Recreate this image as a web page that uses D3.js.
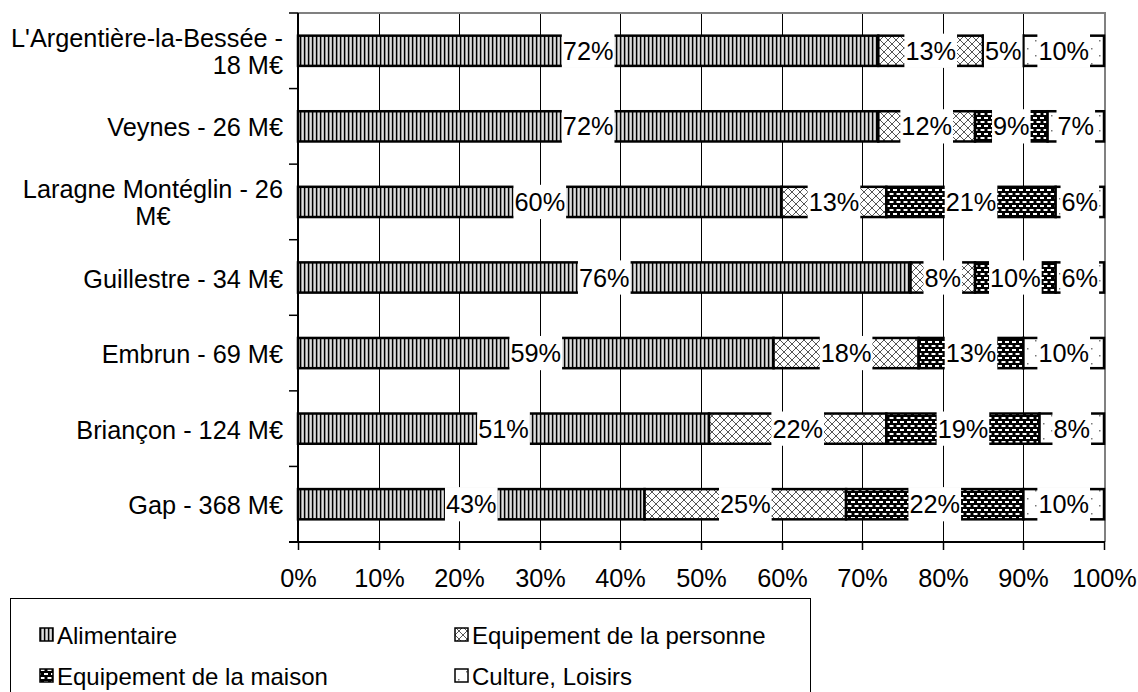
<!DOCTYPE html>
<html>
<head>
<meta charset="utf-8">
<script src="https://cdn.jsdelivr.net/npm/d3@7"></script>
<style>
  body { margin: 0; background: #fff; }
  text { font-family: "Liberation Sans", Arial, sans-serif; }
</style>
</head>
<body>
<div id="chart"></div>
<script>
// categories, top to bottom
const categories = [
  "L'Argentière-la-Bessée - 18 M€",
  "Veynes - 26 M€",
  "Laragne Montéglin - 26 M€",
  "Guillestre - 34 M€",
  "Embrun - 69 M€",
  "Briançon - 124 M€",
  "Gap - 368 M€"
];
// wrapped label lines as drawn, and how the lines line up
const categoryLines = [
  ["L'Argentière-la-Bessée -", "18 M€"],
  ["Veynes - 26 M€"],
  ["Laragne Montéglin - 26", "M€"],
  ["Guillestre - 34 M€"],
  ["Embrun - 69 M€"],
  ["Briançon - 124 M€"],
  ["Gap - 368 M€"]
];
const lineAlign = ["end", "middle", "middle", "middle", "middle", "middle", "middle"];

const seriesNames = ["Alimentaire", "Equipement de la personne", "Equipement de la maison", "Culture, Loisirs"];
const alimentaire = [72, 72, 60, 76, 59, 51, 43];
const personne    = [13, 12, 13,  8, 18, 22, 25];
const maison      = [ 5,  9, 21, 10, 13, 19, 22];
const culture     = [10,  7,  6,  6, 10,  8, 10];
const xTicks = [0, 10, 20, 30, 40, 50, 60, 70, 80, 90, 100];

const width = 1138, height = 692;
const plot = {left: 298, right: 1104, top: 13, bottom: 542};
const fs = 25.3;

const svg = d3.select("#chart").append("svg")
    .attr("width", width)
    .attr("height", height);

// patterns
const defs = svg.append("defs");

const pAli = defs.append("pattern").attr("id", "p0")
    .attr("patternUnits", "userSpaceOnUse").attr("width", 4).attr("height", 4);
pAli.append("rect").attr("width", 4).attr("height", 4).attr("fill", "#b0b0b0");
pAli.append("rect").attr("x", 0).attr("width", 1.2).attr("height", 4).attr("fill", "#000");
pAli.append("rect").attr("x", 2.3).attr("width", 0.9).attr("height", 4).attr("fill", "#f4f4f4");

const pPer = defs.append("pattern").attr("id", "p1")
    .attr("patternUnits", "userSpaceOnUse").attr("width", 8).attr("height", 8);
pPer.append("rect").attr("width", 8).attr("height", 8).attr("fill", "#fff");
pPer.append("path").attr("d", "M0,0L8,8M8,0L0,8")
    .attr("stroke", "#555").attr("stroke-width", 1);

const pMai = defs.append("pattern").attr("id", "p2")
    .attr("patternUnits", "userSpaceOnUse").attr("width", 7).attr("height", 8);
pMai.append("rect").attr("width", 7).attr("height", 8).attr("fill", "#000");
pMai.append("rect").attr("x", 0.5).attr("y", 1).attr("width", 4).attr("height", 2).attr("fill", "#fff");
pMai.append("rect").attr("x", 4).attr("y", 5).attr("width", 3).attr("height", 2).attr("fill", "#fff");
pMai.append("rect").attr("x", 0).attr("y", 5).attr("width", 1).attr("height", 2).attr("fill", "#fff");

const pCul = defs.append("pattern").attr("id", "p3")
    .attr("patternUnits", "userSpaceOnUse").attr("width", 16).attr("height", 15);
pCul.append("rect").attr("width", 16).attr("height", 15).attr("fill", "#fff");
pCul.append("rect").attr("x", 3).attr("y", 3).attr("width", 1.5).attr("height", 1.5).attr("fill", "#777");
pCul.append("rect").attr("x", 11).attr("y", 10).attr("width", 1.5).attr("height", 1.5).attr("fill", "#777");

// scales
const x = d3.scaleLinear().domain([0, 100]).range([plot.left, plot.right]);
const y = d3.scaleBand().domain(categories)
    .range([plot.top, plot.bottom])
    .paddingInner(0.6).paddingOuter(0.3);

// gridlines
svg.append("g")
  .selectAll("line")
  .data(xTicks.slice(1, -1))
  .join("line")
    .attr("x1", d => Math.round(x(d)) + 0.5).attr("x2", d => Math.round(x(d)) + 0.5)
    .attr("y1", plot.top).attr("y2", plot.bottom)
    .attr("stroke", "#000").attr("stroke-width", 1);

// plot border top / right (gray)
svg.append("path")
    .attr("d", `M${plot.left},${plot.top}H${plot.right + 1}V${plot.bottom}`)
    .attr("fill", "none").attr("stroke", "#808080").attr("stroke-width", 2);

// stacked data
const stackData = categories.map((c, i) => ({
  cat: c,
  vals: [alimentaire[i], personne[i], maison[i], culture[i]]
}));

const segs = [];
stackData.forEach(d => {
  let acc = 0;
  d.vals.forEach((v, k) => {
    segs.push({cat: d.cat, k: k, v: v, x0: acc, x1: acc + v});
    acc += v;
  });
});

svg.append("g")
  .selectAll("rect")
  .data(segs)
  .join("rect")
    .attr("x", d => x(d.x0))
    .attr("y", d => y(d.cat))
    .attr("width", d => x(d.x1) - x(d.x0))
    .attr("height", y.bandwidth())
    .attr("fill", d => `url(#p${d.k})`)
    .attr("stroke", "#000")
    .attr("stroke-width", 2.5);

// data labels with white background
const labels = svg.append("g")
  .selectAll("g")
  .data(segs)
  .join("g")
    .attr("transform", d => `translate(${x((d.x0 + d.x1) / 2)},${y(d.cat) + y.bandwidth() / 2})`);

labels.append("rect").attr("fill", "#fff");
labels.append("text")
    .attr("text-anchor", "middle")
    .attr("dy", "0.36em")
    .attr("font-size", fs)
    .attr("fill", "#000")
    .text(d => d.v + "%");
labels.each(function() {
  const g = d3.select(this);
  const w = g.select("text").node().getComputedTextLength();
  const h = y.bandwidth() + 4;
  g.select("rect")
    .attr("x", -w / 2 - 1).attr("width", w + 2)
    .attr("y", -h / 2).attr("height", h);
});

// y axis
svg.append("line")
    .attr("x1", plot.left).attr("x2", plot.left)
    .attr("y1", plot.top).attr("y2", plot.bottom)
    .attr("stroke", "#000").attr("stroke-width", 2);

const step = y.step();
svg.append("g")
  .selectAll("line")
  .data(d3.range(categories.length + 1))
  .join("line")
    .attr("x1", plot.left - 9).attr("x2", plot.left)
    .attr("y1", i => plot.top + i * step).attr("y2", i => plot.top + i * step)
    .attr("stroke", "#000").attr("stroke-width", 1.5);

const yLab = svg.append("g")
  .selectAll("text")
  .data(categories)
  .join("text")
    .attr("text-anchor", (c, i) => lineAlign[i])
    .attr("font-size", fs)
    .attr("fill", "#000");
yLab.each(function(c, i) {
  const lines = categoryLines[i];
  const t = d3.select(this);
  const cy = y(c) + y.bandwidth() / 2;
  const lh = 27;
  lines.forEach((ln, j) => {
    t.append("tspan")
      .attr("y", cy + (j - (lines.length - 1) / 2) * lh + 10)
      .text(ln);
  });
});
// block ends at the axis; lines centred or right-aligned inside it
yLab.each(function(c, i) {
  const t = d3.select(this);
  const tsp = t.selectAll("tspan").nodes();
  const wmax = d3.max(tsp, n => n.getComputedTextLength());
  const xr = plot.left - 15;
  t.selectAll("tspan").attr("x", lineAlign[i] === "end" ? xr : xr - wmax / 2);
});

// x axis
svg.append("line")
    .attr("x1", plot.left - 9).attr("x2", plot.right + 1)
    .attr("y1", plot.bottom).attr("y2", plot.bottom)
    .attr("stroke", "#000").attr("stroke-width", 2);

const xAxis = svg.append("g")
  .selectAll("g")
  .data(xTicks)
  .join("g")
    .attr("transform", d => `translate(${Math.round(x(d)) + 0.5},${plot.bottom})`);
xAxis.append("line").attr("y2", 8).attr("stroke", "#000").attr("stroke-width", 1.5);
xAxis.append("text")
    .attr("text-anchor", "middle")
    .attr("y", 45)
    .attr("font-size", fs)
    .text(d => d + "%");

// legend
const legend = svg.append("g");
legend.append("rect")
    .attr("x", 10.5).attr("y", 598.5)
    .attr("width", 800).attr("height", 110)
    .attr("fill", "#fff").attr("stroke", "#000").attr("stroke-width", 1);

const legPos = [[40, 635], [455, 635], [40, 676], [455, 676]];
const legItems = legend.selectAll("g.item")
  .data(seriesNames)
  .join("g")
    .attr("class", "item")
    .attr("transform", (d, i) => `translate(${legPos[i][0]},${legPos[i][1]})`);
legItems.append("rect")
    .attr("x", 0).attr("y", -7).attr("width", 13).attr("height", 13)
    .attr("fill", (d, i) => `url(#p${i})`)
    .attr("stroke", "#000").attr("stroke-width", 1.5);
legItems.append("text")
    .attr("x", 17).attr("dy", "0.36em")
    .attr("font-size", 24)
    .text(d => d);
</script>
</body>
</html>
